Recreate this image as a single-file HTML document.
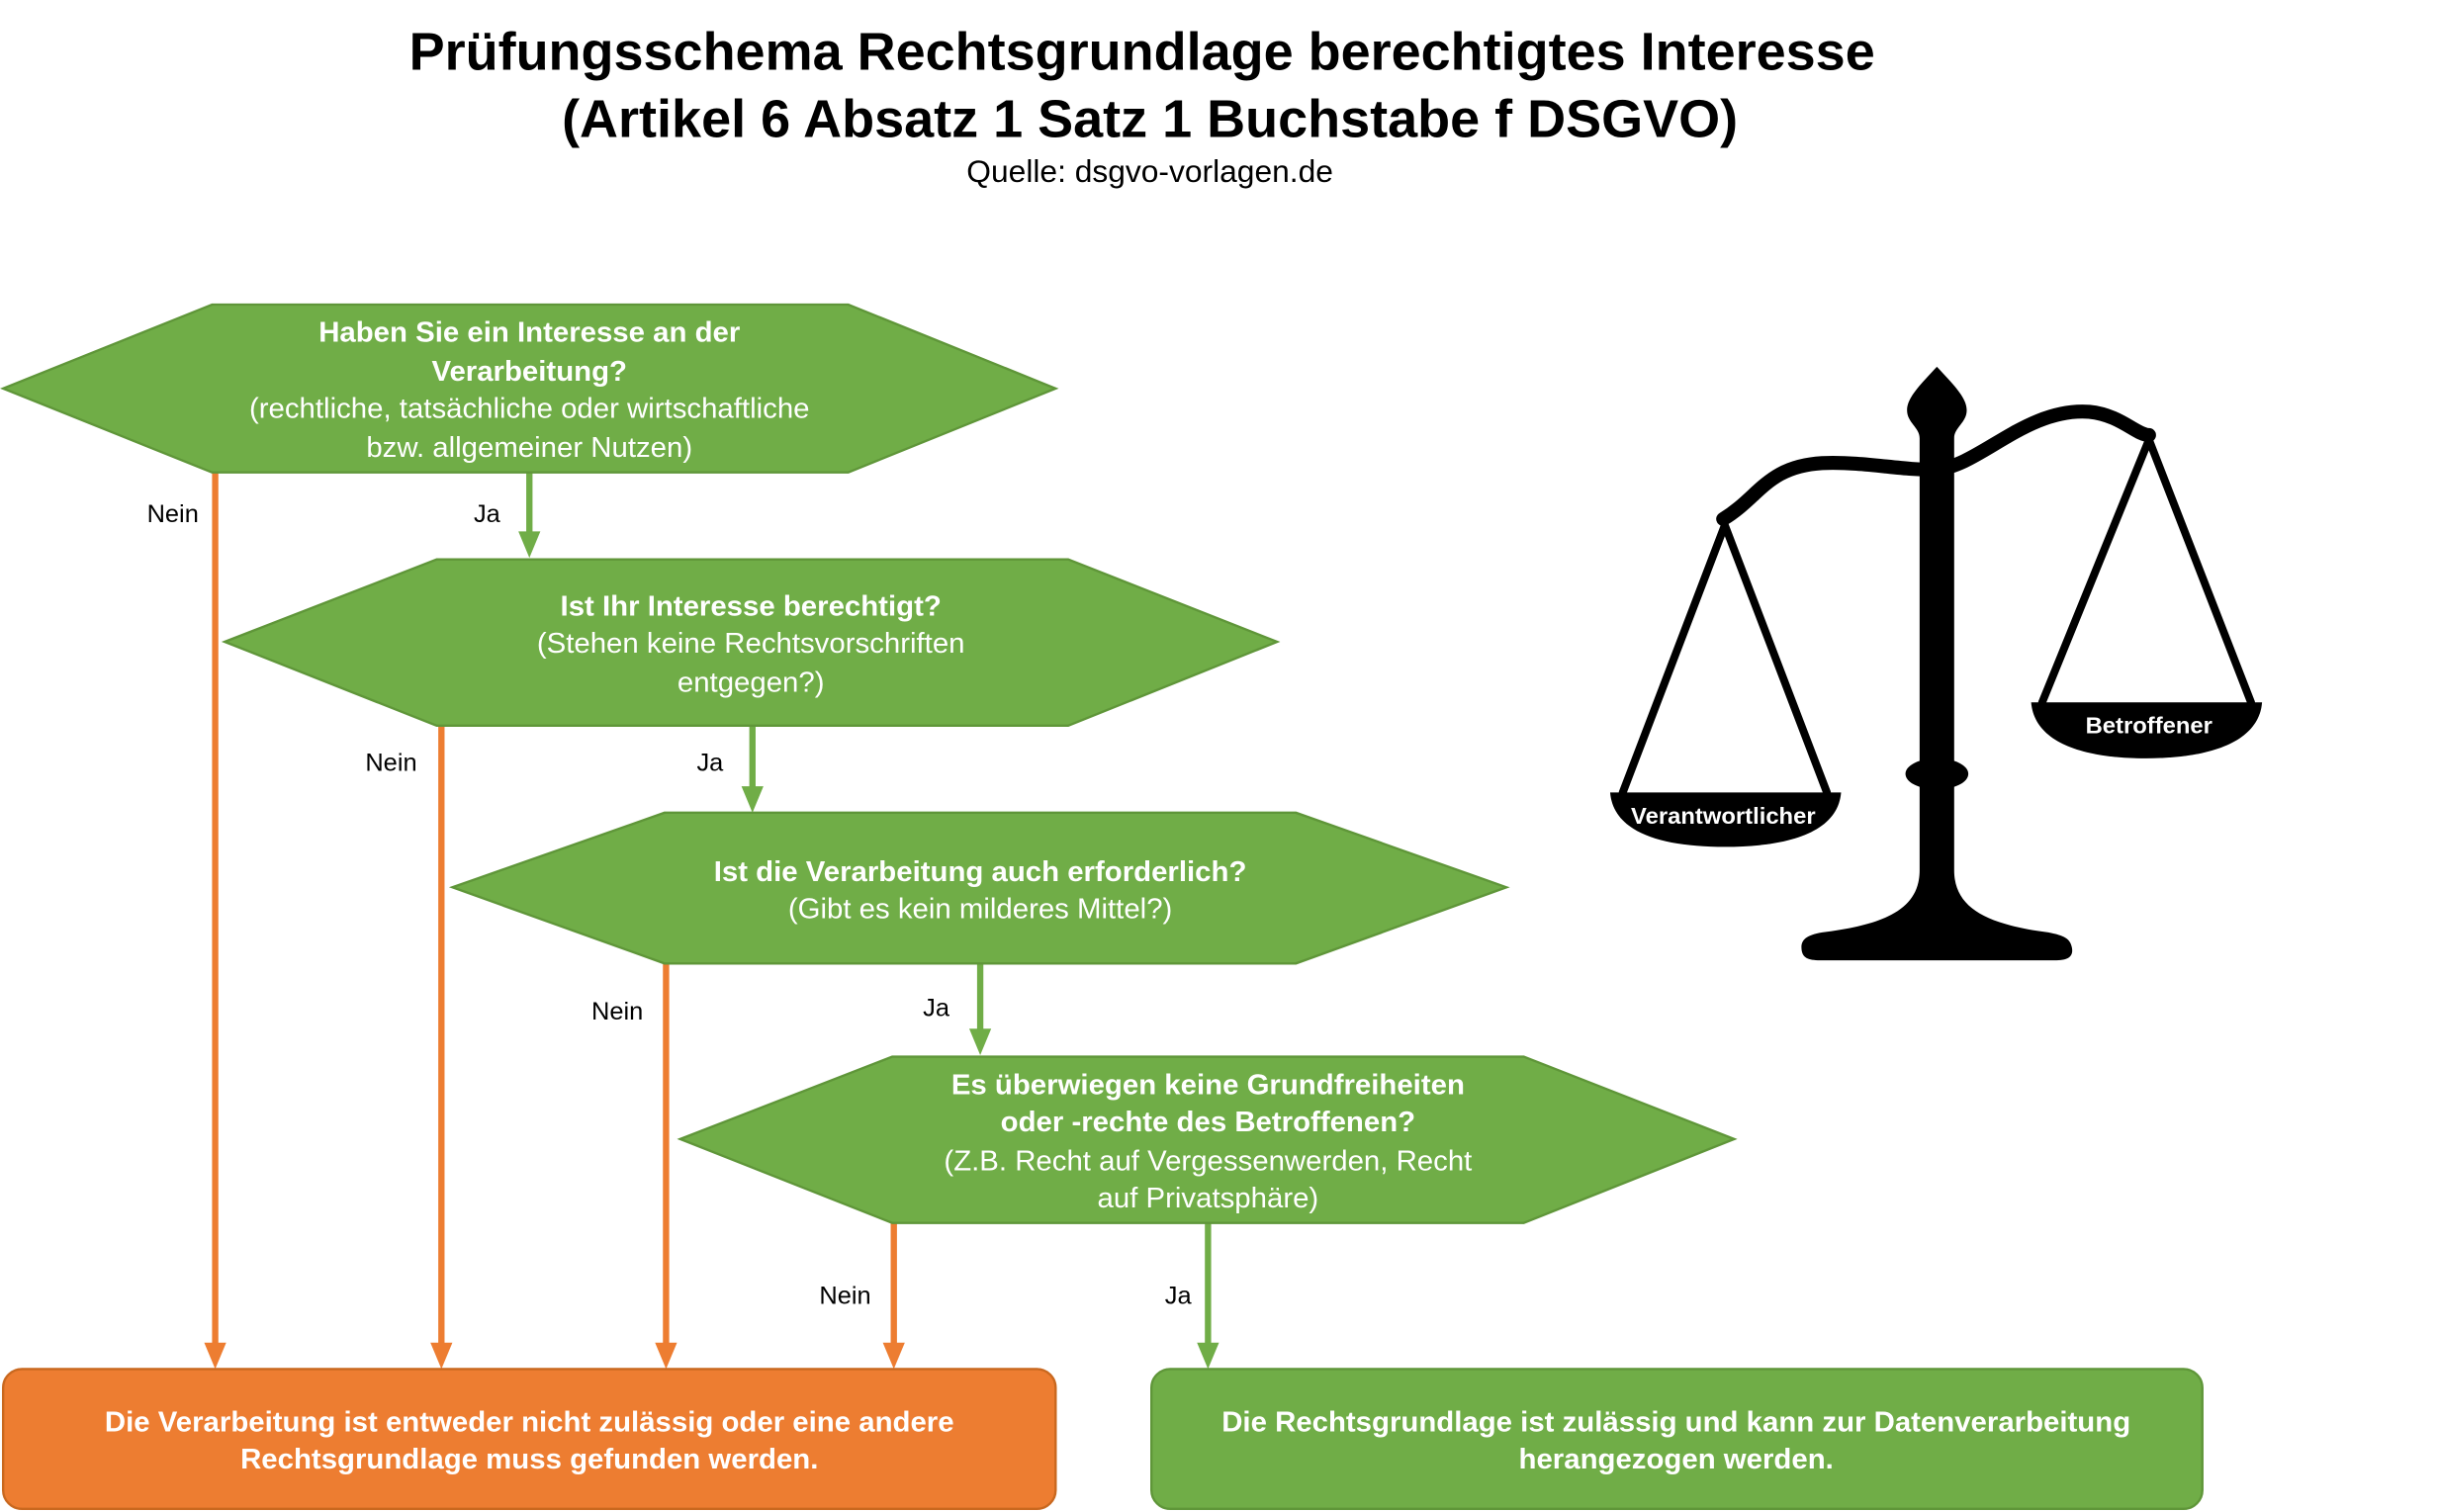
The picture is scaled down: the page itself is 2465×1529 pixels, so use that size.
<!DOCTYPE html>
<html><head><meta charset="utf-8"><style>
html,body{margin:0;padding:0;background:#fff;}
svg{display:block;}
svg text{font-family:"Liberation Sans",Arial,Helvetica,sans-serif;}
</style></head><body>
<svg width="2465" height="1529" viewBox="0 0 1552 973" preserveAspectRatio="none" xmlns="http://www.w3.org/2000/svg" font-family="Liberation Sans, Arial, sans-serif">
<rect width="1552" height="973" fill="#fff"/>
<g text-anchor="middle" fill="#000">
<text x="727" y="45" font-size="34" font-weight="bold">Prüfungsschema Rechtsgrundlage berechtigtes Interesse</text>
<text x="732" y="88" font-size="34" font-weight="bold">(Artikel 6 Absatz 1 Satz 1 Buchstabe f DSGVO)</text>
<text x="732" y="117" font-size="20">Quelle: dsgvo-vorlagen.de</text>
</g>
<g stroke="#ed7d31" stroke-width="4" fill="none">
<line x1="137" y1="304" x2="137" y2="866"/>
<line x1="281" y1="467" x2="281" y2="866"/>
<line x1="424" y1="620" x2="424" y2="866"/>
<line x1="569" y1="787" x2="569" y2="866"/>
</g>
<g fill="#ed7d31">
<polygon points="130,864 144,864 137,881"/>
<polygon points="274,864 288,864 281,881"/>
<polygon points="417,864 431,864 424,881"/>
<polygon points="562,864 576,864 569,881"/>
</g>
<g stroke="#70ad47" stroke-width="4" fill="none">
<line x1="337" y1="304" x2="337" y2="344"/>
<line x1="479" y1="467" x2="479" y2="508"/>
<line x1="624" y1="620" x2="624" y2="664"/>
<line x1="769" y1="787" x2="769" y2="866"/>
</g>
<g fill="#70ad47">
<polygon points="330,342 344,342 337,359"/>
<polygon points="472,506 486,506 479,523"/>
<polygon points="617,662 631,662 624,679"/>
<polygon points="762,864 776,864 769,881"/>
</g>
<g fill="#70ad47" stroke="#5f9639" stroke-width="1.5">
<polygon points="2,250 135,196 540,196 672,250 540,304 135,304"/>
<polygon points="143,413 278,360 680,360 813,413 680,467 278,467"/>
<polygon points="288,571 423,523 825,523 959,571 825,620 423,620"/>
<polygon points="433,733 568,680 970,680 1104,733 970,787 568,787"/>
<rect x="2" y="881" width="670" height="90" rx="12" fill="#ed7d31" stroke="#c9681f"/>
<rect x="733" y="881" width="669" height="90" rx="12"/>
</g>
<g text-anchor="middle" fill="#fff" font-size="18.5">
<text x="337" y="220" font-weight="bold">Haben Sie ein Interesse an der</text>
<text x="337" y="245" font-weight="bold">Verarbeitung?</text>
<text x="337" y="269">(rechtliche, tatsächliche oder wirtschaftliche</text>
<text x="337" y="294">bzw. allgemeiner Nutzen)</text>
<text x="478" y="396" font-weight="bold">Ist Ihr Interesse berechtigt?</text>
<text x="478" y="420">(Stehen keine Rechtsvorschriften</text>
<text x="478" y="445">entgegen?)</text>
<text x="624" y="567" font-weight="bold">Ist die Verarbeitung auch erforderlich?</text>
<text x="624" y="591">(Gibt es kein milderes Mittel?)</text>
<text x="769" y="704" font-weight="bold">Es überwiegen keine Grundfreiheiten</text>
<text x="769" y="728" font-weight="bold">oder -rechte des Betroffenen?</text>
<text x="769" y="753">(Z.B. Recht auf Vergessenwerden, Recht</text>
<text x="769" y="777">auf Privatsphäre)</text>
<text x="337" y="921" font-weight="bold">Die Verarbeitung ist entweder nicht zulässig oder eine andere</text>
<text x="337" y="945" font-weight="bold">Rechtsgrundlage muss gefunden werden.</text>
<text x="1067" y="921" font-weight="bold">Die Rechtsgrundlage ist zulässig und kann zur Datenverarbeitung</text>
<text x="1067" y="945" font-weight="bold">herangezogen werden.</text>
</g>
<g text-anchor="middle" fill="#000" font-size="16">
<text x="110" y="336">Nein</text><text x="310" y="336">Ja</text>
<text x="249" y="496">Nein</text><text x="452" y="496">Ja</text>
<text x="393" y="656">Nein</text><text x="596" y="654">Ja</text>
<text x="538" y="839">Nein</text><text x="750" y="839">Ja</text>
</g>
<g fill="#000" stroke="none">
<path d="M1233,236 C1222,248 1214,256 1214,264 C1214,272 1222,275 1222,282 L1222,560 C1222,585 1200,595 1160,600 C1148,602 1146,606 1147,612 C1148,617 1152,618 1160,618 L1308,618 C1316,618 1320,616 1319,610 C1318,604 1314,602 1304,600 C1266,595 1244,585 1244,560 L1244,282 C1244,275 1252,272 1252,264 C1252,256 1244,248 1233,236 Z"/>
<ellipse cx="1233" cy="498" rx="20" ry="10"/>
<path d="M1025,510 L1172,510 C1170,535 1140,545 1098,545 C1056,545 1027,535 1025,510 Z"/>
<path d="M1293,452 L1440,452 C1438,477 1408,488 1366,488 C1324,488 1295,477 1293,452 Z"/>
</g>
<g stroke="#000" fill="none" stroke-linecap="round">
<path d="M1097,334 C1120,320 1125,300 1160,298 C1190,297 1210,303 1233,302 C1260,300 1290,262 1330,265 C1350,267 1360,280 1368,280" stroke-width="9"/>
<path d="M1098,338 L1033,510 M1098,338 L1163,510" stroke-width="5"/>
<path d="M1368,283 L1300,452 M1368,283 L1433,452" stroke-width="5"/>
</g>
<g text-anchor="middle" fill="#fff" font-size="15" font-weight="bold">
<text x="1097" y="530">Verantwortlicher</text>
<text x="1368" y="472">Betroffener</text>
</g>
</svg>
</body></html>
